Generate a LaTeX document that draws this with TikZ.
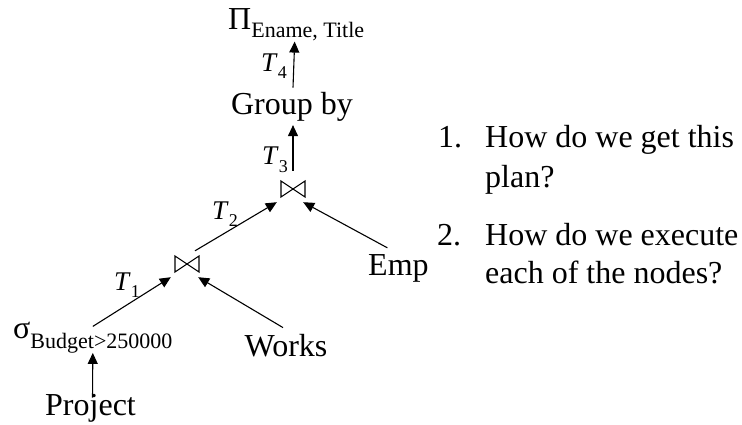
\documentclass[tikz,border=0pt]{standalone}
\usepackage{fontspec}
\setmainfont{Liberation Serif}
\usetikzlibrary{arrows.meta}
\begin{document}
\begin{tikzpicture}[x=1pt,y=-1pt,
  big/.style={font=\fontsize{32}{38}\selectfont, inner sep=0pt},
  tlab/.style={font=\fontsize{27}{32}\selectfont, inner sep=0pt, anchor=base west},
  joinbox/.style={inner sep=0pt, minimum width=32pt, minimum height=26pt},
  bowtie/.style={line width=1.1pt, line join=miter},
  arr/.style={line width=1.1pt, -{Triangle[length=11pt,width=10pt]}}]
\path[use as bounding box] (0,0) rectangle (742,425);
\newcommand{\subtxt}[2]{\raisebox{-#1}{\fontsize{22}{26}\selectfont #2}}
\newcommand{\tsub}[1]{\raisebox{-7pt}{\fontsize{18}{21}\selectfont #1}}
% operator nodes
\node[big, anchor=base west] (pi) at (228,30) {Π\subtxt{8pt}{Ename, Title}};
\node[big, anchor=base] (gb) at (292,115) {Group by};
\node[joinbox] (j1) at (293,189) {};
\node[joinbox] (j2) at (187,264) {};
\draw[bowtie] (j1.center) ++(-12,-8) -- ++(0,16) -- ++(24,-16) -- ++(0,16) -- cycle;
\draw[bowtie] (j2.center) ++(-12,-8) -- ++(0,16) -- ++(24,-16) -- ++(0,16) -- cycle;
\node[big, anchor=base west] (emp) at (368,275) {Emp};
\node[big, anchor=base west] (sig) at (13,338) {σ\subtxt{10pt}{Budget>250000}};
\node[big, anchor=base] (works) at (286,356) {Works};
\node[big, anchor=base west] (proj) at (45,415) {Project};
% edge labels
\node[tlab] (t4) at (261,72) {\textit{T}\tsub{4}};
\node[tlab] (t3) at (262,165) {\textit{T}\tsub{3}};
\node[tlab] (t2) at (212,219) {\textit{T}\tsub{2}};
\node[tlab] (t1) at (114,290) {\textit{T}\tsub{1}};
% connectors
\draw[arr] ([xshift=2pt,yshift=-4pt]proj.north) -- (sig.south);
\draw[arr] ([yshift=-5pt]sig.north) -- (j2.south west);
\draw[arr] ([xshift=-3pt,yshift=6pt]works.north) -- ([xshift=-5pt]j2.south east);
\draw[arr] ([xshift=8pt]j2.north) -- (j1.south west);
\draw[arr] ([xshift=-11pt,yshift=6pt]emp.north) -- ([xshift=-6pt]j1.south east);
\draw[arr] ([yshift=5pt]j1.north) -- ([xshift=1pt,yshift=-3pt]gb.south);
\draw[arr] ([xshift=1pt,yshift=5pt]gb.north) -- ([xshift=-1.5pt]pi.south);
% questions
\node[big, anchor=base west] (n1) at (438,148) {1.};
\node[big, anchor=base west] (q1a) at (485,148) {How do we get this};
\node[big, anchor=base west] (q1b) at (485,187) {plan?};
\node[big, anchor=base west] (n2) at (437,245) {2.};
\node[big, anchor=base west] (q2a) at (485,245) {How do we execute};
\node[big, anchor=base west] (q2b) at (485,283) {each of the nodes?};
\end{tikzpicture}
\end{document}
